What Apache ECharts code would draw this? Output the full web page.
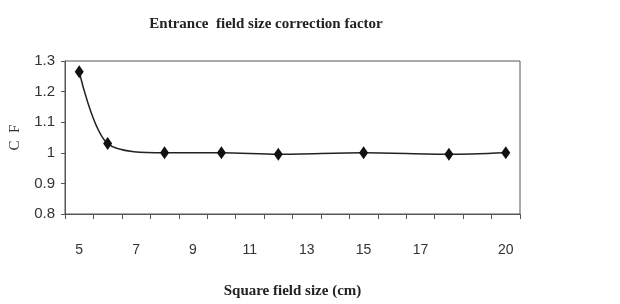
<!DOCTYPE html>
<html>
<head>
<meta charset="utf-8">
<script src="https://cdn.jsdelivr.net/npm/echarts@6/dist/echarts.min.js"></script>
<style>
  html, body { margin: 0; padding: 0; background: #fff; }
  #chart { width: 620px; height: 304px; }
</style>
</head>
<body>
<div id="chart"></div>
<script>
// field sizes on the axis (cm), one slot each
const sizes = ['5', '6', '7', '8', '9', '10', '11', '12', '13', '14', '15', '16', '17', '18', '19', '20']
// labels that the axis actually prints
const shownLabels = ['5', '7', '9', '11', '13', '15', '17', '20']
// measured points
const measuredSizes = ['5', '6', '8', '10', '12', '15', '18', '20']
const cfValues = [1.265, 1.03, 1.0, 1.0, 0.995, 1.0, 0.995, 1.0]

const chart = echarts.init(document.getElementById('chart'))

const serif = 'Liberation Serif'
const sans = 'Liberation Sans'

chart.setOption({
  backgroundColor: '#fff',
  animation: false,
  title: {
    text: 'Entrance  field size correction factor',
    left: 261,
    top: 12,
    textAlign: 'center',
    textStyle: {
      fontFamily: serif,
      fontWeight: 'bold',
      fontSize: 15,
      color: '#222'
    }
  },
  grid: {
    left: 65,
    right: 100,
    top: 61,
    bottom: 90,
    outerBoundsMode: 'none',
    show: true,
    borderColor: '#555',
    borderWidth: 1
  },
  xAxis: {
    type: 'category',
    data: sizes,
    boundaryGap: true,
    name: 'Square field size (cm)',
    nameLocation: 'middle',
    nameGap: 70,
    nameTextStyle: {
      fontFamily: serif,
      fontWeight: 'bold',
      fontSize: 15,
      color: '#222'
    },
    axisLine: { lineStyle: { color: '#555', width: 1 } },
    axisTick: { show: true, interval: 0, length: 5, lineStyle: { color: '#555' } },
    axisLabel: {
      interval: (i, v) => shownLabels.includes(v),
      margin: 29,
      fontFamily: sans,
      fontSize: 14,
      color: '#333'
    },
    splitLine: { show: false }
  },
  yAxis: {
    type: 'value',
    min: 0.8,
    max: 1.3,
    interval: 0.1,
    name: 'C  F',
    nameLocation: 'middle',
    nameGap: 42,
    nameRotate: 90,
    nameTextStyle: {
      fontFamily: serif,
      fontSize: 15,
      color: '#333'
    },
    axisLine: { show: true, lineStyle: { color: '#555', width: 1 } },
    axisTick: { show: true, length: 4, lineStyle: { color: '#555' } },
    axisLabel: {
      margin: 10,
      fontFamily: sans,
      fontSize: 15,
      color: '#333',
      formatter: v => String(Math.round(v * 10) / 10)
    },
    splitLine: { show: false }
  },
  series: [{
    type: 'line',
    data: measuredSizes.map((s, i) => [s, cfValues[i]]),
    smooth: 0.3,
    symbol: 'diamond',
    symbolSize: [9, 13],
    itemStyle: { color: '#111' },
    lineStyle: { color: '#222', width: 1.5 }
  }]
})
</script>
</body>
</html>
